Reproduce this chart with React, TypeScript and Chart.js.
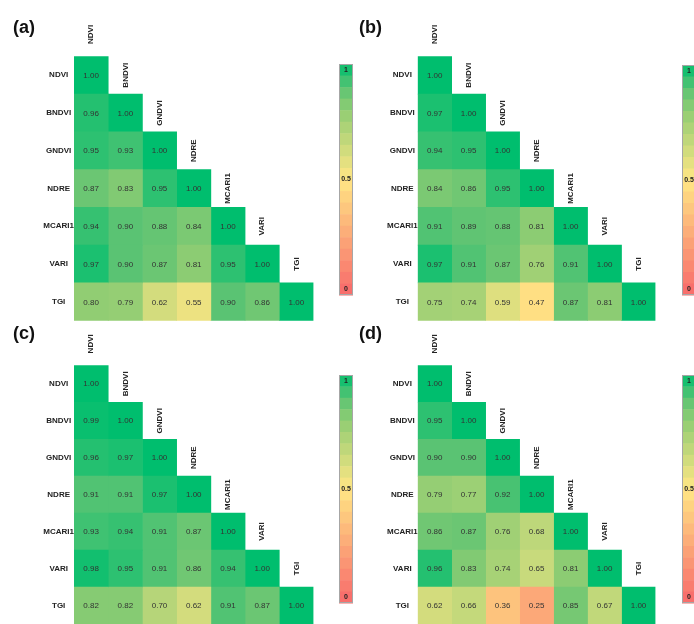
import React, { useEffect, useRef } from "react";
import { Chart, registerables } from "chart.js";

Chart.register(...registerables);

// ---------- data ----------
const VARIABLES = ["NDVI", "BNDVI", "GNDVI", "NDRE", "MCARI1", "VARI", "TGI"];
const PANEL_LABELS = ["(a)", "(b)", "(c)", "(d)"];
const COLORBAR_TICKS = ["1", "0.5", "0"];

const CORR_A = [
  [1.0],
  [0.96, 1.0],
  [0.95, 0.93, 1.0],
  [0.87, 0.83, 0.95, 1.0],
  [0.94, 0.9, 0.88, 0.84, 1.0],
  [0.97, 0.9, 0.87, 0.81, 0.95, 1.0],
  [0.8, 0.79, 0.62, 0.55, 0.9, 0.86, 1.0],
];
const CORR_B = [
  [1.0],
  [0.97, 1.0],
  [0.94, 0.95, 1.0],
  [0.84, 0.86, 0.95, 1.0],
  [0.91, 0.89, 0.88, 0.81, 1.0],
  [0.97, 0.91, 0.87, 0.76, 0.91, 1.0],
  [0.75, 0.74, 0.59, 0.47, 0.87, 0.81, 1.0],
];
const CORR_C = [
  [1.0],
  [0.99, 1.0],
  [0.96, 0.97, 1.0],
  [0.91, 0.91, 0.97, 1.0],
  [0.93, 0.94, 0.91, 0.87, 1.0],
  [0.98, 0.95, 0.91, 0.86, 0.94, 1.0],
  [0.82, 0.82, 0.7, 0.62, 0.91, 0.87, 1.0],
];
const CORR_D = [
  [1.0],
  [0.95, 1.0],
  [0.9, 0.9, 1.0],
  [0.79, 0.77, 0.92, 1.0],
  [0.86, 0.87, 0.76, 0.68, 1.0],
  [0.96, 0.83, 0.74, 0.65, 0.81, 1.0],
  [0.62, 0.66, 0.36, 0.25, 0.85, 0.67, 1.0],
];
const MATRICES = [CORR_A, CORR_B, CORR_C, CORR_D];

// ---------- style ----------
const FONT = "'Liberation Sans', Arial, sans-serif";
const COLOR_STOPS: [number, number[]][] = [
  [0, [248, 105, 107]],
  [0.5, [255, 230, 132]],
  [0.8, [145, 205, 115]],
  [0.9, [90, 195, 115]],
  [1, [0, 190, 110]],
];

function colorFor(v: number): string {
  for (let k = 1; k < COLOR_STOPS.length; k++) {
    const [v1, c1] = COLOR_STOPS[k];
    const [v0, c0] = COLOR_STOPS[k - 1];
    if (v <= v1 || k === COLOR_STOPS.length - 1) {
      const t = Math.max(0, Math.min(1, (v - v0) / (v1 - v0)));
      const c = c0.map((a, i) => Math.round(a + (c1[i] - a) * t));
      return `rgb(${c[0]},${c[1]},${c[2]})`;
    }
  }
  return "#fff";
}

type Layout = {
  left: number;
  top: number;
  width: number;
  height: number;
  axisWidth: number;
  padTop: number;
  padRight: number;
  padBottom: number;
  bar: { x: number; y: number; w: number; h: number };
  labelX: number;
  labelY: number;
};

const LAYOUTS: Layout[] = [
  { left: 0, top: 0, width: 355, height: 322, axisWidth: 74, padTop: 56.3, padRight: 41.5, padBottom: 1.3, bar: { x: 339, y: 64, w: 14, h: 231 }, labelX: 13, labelY: 33 },
  { left: 355, top: 0, width: 339, height: 322, axisWidth: 62.7, padTop: 56.3, padRight: 38.5, padBottom: 1.3, bar: { x: 327, y: 65, w: 14, h: 230 }, labelX: 4, labelY: 33 },
  { left: 0, top: 322, width: 355, height: 302, axisWidth: 74, padTop: 43.3, padRight: 41.5, padBottom: 0, bar: { x: 339, y: 53, w: 14, h: 228 }, labelX: 13, labelY: 17 },
  { left: 355, top: 322, width: 339, height: 302, axisWidth: 62.7, padTop: 43.3, padRight: 38.5, padBottom: 0, bar: { x: 327, y: 53, w: 14, h: 228 }, labelX: 4, labelY: 17 },
];

function makeOverlay(matrix: number[][], layout: Layout, panelLabel: string) {
  return {
    id: "heatOverlay",
    afterDatasetsDraw(chart: any) {
      const ctx = chart.ctx as CanvasRenderingContext2D;
      const xs = chart.scales.x;
      const ys = chart.scales.y;
      const area = chart.chartArea;
      const rowH = (area.bottom - area.top) / VARIABLES.length;
      ctx.save();
      // values
      ctx.font = `8px ${FONT}`;
      ctx.fillStyle = "#333";
      ctx.textAlign = "center";
      ctx.textBaseline = "middle";
      VARIABLES.forEach((_, j) => {
        const meta = chart.getDatasetMeta(j);
        meta.data.forEach((el: any, i: number) => {
          if (i < j) return;
          const p = el.getCenterPoint();
          ctx.fillText(matrix[i][j].toFixed(2), p.x, p.y + 0.5);
        });
      });
      // column labels
      ctx.font = `bold 8px ${FONT}`;
      ctx.fillStyle = "#222";
      VARIABLES.forEach((name, j) => {
        const cx = xs.getPixelForValue(j + 0.5);
        const cy = j === 0 ? area.top - rowH / 2 - 3 : ys.getPixelForValue(j - 1);
        ctx.save();
        ctx.translate(cx, cy);
        ctx.rotate(-Math.PI / 2);
        ctx.fillText(name, 0, 0);
        ctx.restore();
      });
      // colour bar
      const { x, y, w, h } = layout.bar;
      const bands = 20;
      for (let k = 0; k < bands; k++) {
        const v = 1 - (k + 0.5) / bands;
        ctx.fillStyle = colorFor(v);
        ctx.fillRect(x, y + (k * h) / bands, w, h / bands + 0.5);
      }
      ctx.strokeStyle = "#a6a6a6";
      ctx.lineWidth = 1;
      ctx.strokeRect(x + 0.5, y + 0.5, w - 1, h - 1);
      ctx.font = `bold 7px ${FONT}`;
      ctx.fillStyle = "#222";
      ctx.fillText(COLORBAR_TICKS[0], x + w / 2, y + 6);
      ctx.fillText(COLORBAR_TICKS[1], x + w / 2, y + h / 2);
      ctx.fillText(COLORBAR_TICKS[2], x + w / 2, y + h - 6);
      // panel label
      ctx.font = `bold 18px ${FONT}`;
      ctx.fillStyle = "#111";
      ctx.textAlign = "left";
      ctx.textBaseline = "alphabetic";
      ctx.fillText(panelLabel, layout.labelX, layout.labelY);
      ctx.restore();
    },
  };
}

function Panel({ index }: { index: number }) {
  const ref = useRef<HTMLCanvasElement | null>(null);
  const layout = LAYOUTS[index];
  const matrix = MATRICES[index];
  useEffect(() => {
    if (!ref.current) return;
    const datasets = VARIABLES.map((name, j) => ({
      label: name,
      data: VARIABLES.map((_, i) => (i >= j ? [j, j + 1] : null)),
      backgroundColor: VARIABLES.map((_, i) => (i >= j ? colorFor(matrix[i][j]) : "rgba(0,0,0,0)")),
      borderWidth: 0,
      barPercentage: 1,
      categoryPercentage: 1,
      grouped: false,
    }));
    const chart = new Chart(ref.current, {
      type: "bar",
      data: { labels: VARIABLES, datasets: datasets as any },
      options: {
        indexAxis: "y",
        animation: false,
        responsive: false,
        maintainAspectRatio: false,
        devicePixelRatio: 1,
        layout: {
          padding: { left: 0, top: layout.padTop, right: layout.padRight, bottom: layout.padBottom },
        },
        plugins: { legend: { display: false }, tooltip: { enabled: false }, title: { display: false } },
        scales: {
          x: { type: "linear", min: 0, max: VARIABLES.length, display: false },
          y: {
            type: "category",
            position: "left",
            offset: true,
            grid: { display: false, drawTicks: false },
            border: { display: false },
            ticks: {
              padding: 0,
              crossAlign: "center",
              color: "#222",
              font: { family: FONT, size: 8, weight: "bold" },
            },
            afterFit: (scale: any) => {
              scale.width = layout.axisWidth;
              scale.paddingTop = 0;
              scale.paddingBottom = 0;
            },
          },
        },
      } as any,
      plugins: [makeOverlay(matrix, layout, PANEL_LABELS[index])],
    });
    return () => chart.destroy();
  }, [index]);
  return (
    <canvas
      ref={ref}
      width={layout.width}
      height={layout.height}
      style={{ position: "absolute", left: layout.left, top: layout.top, width: layout.width, height: layout.height }}
    />
  );
}

export default function App() {
  return (
    <div style={{ position: "absolute", left: 0, top: 0, width: 694, height: 624, overflow: "hidden", background: "#fff" }}>
      {[0, 1, 2, 3].map((i) => (
        <Panel key={i} index={i} />
      ))}
    </div>
  );
}
